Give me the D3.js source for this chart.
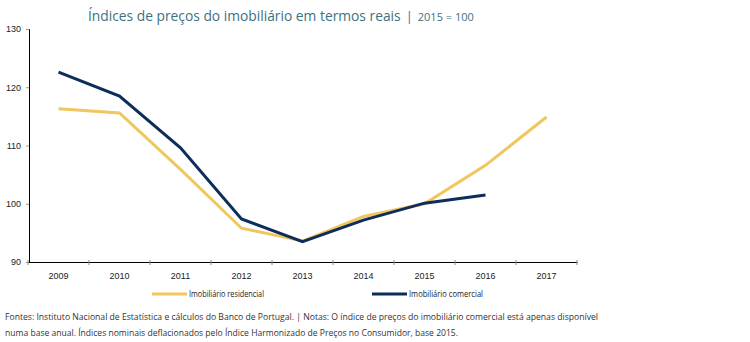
<!DOCTYPE html>
<html>
<head>
<meta charset="utf-8">
<script src="https://cdn.jsdelivr.net/npm/d3@7"></script>
<style>
  body { margin: 0; background: #fff; }
  svg { font-family: "Open Sans", sans-serif; }
</style>
</head>
<body>
<div id="chart"></div>
<script>
// data
const years = ["2009", "2010", "2011", "2012", "2013", "2014", "2015", "2016", "2017"];
const residencial = [116.3, 115.6, 105.9, 95.8, 93.6, 97.8, 100.0, 106.6, 114.9];
const comercial = [122.6, 118.5, 109.6, 97.4, 93.5, 97.2, 100.1, 101.5];
const yTicks = [90, 100, 110, 120, 130];

const width = 750, height = 342;
const svg = d3.select("#chart").append("svg")
  .attr("width", width)
  .attr("height", height);

const margin = {left: 28, right: 173, top: 29, bottom: 80};

const x = d3.scaleBand()
  .domain(years)
  .range([margin.left, width - margin.right]);

const y = d3.scaleLinear()
  .domain([90, 130])
  .range([height - margin.bottom, margin.top]);

// title, base year part a bit smaller
const title = svg.append("text")
  .attr("x", 88)
  .attr("y", 21)
  .attr("fill", "#3d7180")
  .attr("font-size", 13.8);
title.append("tspan")
  .text("Índices de preços do imobiliário em termos reais");
title.append("tspan")
  .attr("dx", 5)
  .attr("font-size", 13)
  .text("|");
title.append("tspan")
  .attr("dx", 5)
  .attr("font-size", 11)
  .text("2015 = 100");

// y axis
const yAxis = svg.append("g")
  .attr("transform", "translate(" + (margin.left + 1) + ",0)")
  .call(d3.axisLeft(y).tickValues(yTicks).tickSize(3).tickPadding(5));
yAxis.select(".domain").attr("stroke", "#000");
yAxis.selectAll(".tick line").attr("stroke", "#999");
yAxis.selectAll("text").attr("font-size", 9).attr("fill", "#222");

// x axis
const xAxis = svg.append("g")
  .attr("transform", "translate(0," + y(90) + ")")
  .call(d3.axisBottom(x).tickSize(0).tickPadding(11));
xAxis.select(".domain").attr("stroke", "#000");
xAxis.selectAll("text").attr("font-size", 9).attr("fill", "#222");

// tick marks at band boundaries
svg.append("g").selectAll("line")
  .data(years.concat(["end"]))
  .join("line")
  .attr("x1", (d, i) => margin.left + i * x.step())
  .attr("x2", (d, i) => margin.left + i * x.step())
  .attr("y1", y(90) - 2)
  .attr("y2", y(90) + 3)
  .attr("stroke", "#888");

const line = d3.line()
  .x((d, i) => x(years[i]) + x.bandwidth() / 2)
  .y(d => y(d));

svg.append("path")
  .datum(residencial)
  .attr("d", line)
  .attr("fill", "none")
  .attr("stroke", "#f0c75e")
  .attr("stroke-width", 3);

svg.append("path")
  .datum(comercial)
  .attr("d", line)
  .attr("fill", "none")
  .attr("stroke", "#0d2d5a")
  .attr("stroke-width", 3);

// legend
const legend = [
  {name: "Imobiliário residencial", color: "#f0c75e", x: 152, w: 75},
  {name: "Imobiliário comercial", color: "#0d2d5a", x: 372, w: 74}
];
const lg = svg.append("g").selectAll("g")
  .data(legend)
  .join("g")
  .attr("transform", d => "translate(" + d.x + ",294)");
lg.append("line")
  .attr("x1", 0).attr("x2", 35)
  .attr("stroke", d => d.color)
  .attr("stroke-width", 3);
lg.append("text")
  .attr("x", 37)
  .attr("y", 3)
  .attr("font-size", 8.5)
  .attr("fill", "#222")
  .attr("textLength", d => d.w)
  .attr("lengthAdjust", "spacingAndGlyphs")
  .text(d => d.name);

// footnote
const notes = [
  "Fontes: Instituto Nacional de Estatística e cálculos do Banco de Portugal.  |  Notas: O índice de preços do imobiliário comercial está apenas disponível",
  "numa base anual. Índices nominais deflacionados pelo Índice Harmonizado de Preços no Consumidor, base 2015."
];
const noteWidths = [593, 453];
svg.append("g").selectAll("text")
  .data(notes)
  .join("text")
  .attr("x", 5)
  .attr("y", (d, i) => 320 + i * 16)
  .attr("font-size", 9.5)
  .attr("fill", "#333")
  .attr("textLength", (d, i) => noteWidths[i])
  .attr("lengthAdjust", "spacingAndGlyphs")
  .text(d => d);
</script>
</body>
</html>
